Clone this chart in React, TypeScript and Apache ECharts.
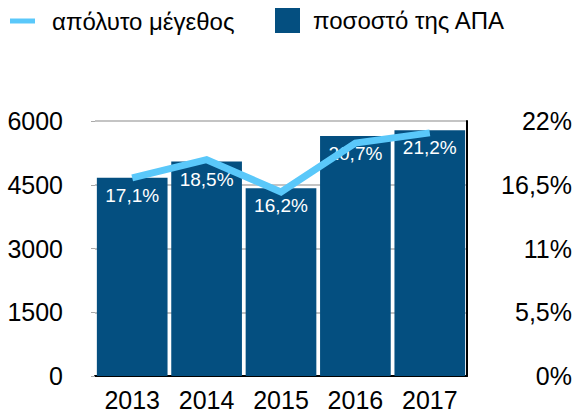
import React, { useEffect, useRef } from "react";
import * as echarts from "echarts";

const years = ["2013", "2014", "2015", "2016", "2017"];
const absoluteValues = [4660, 5090, 4330, 5480, 5720];
const gdpShare = [17.1, 18.5, 16.2, 20.7, 21.2];
const lineName = "απόλυτο μέγεθος";
const barName = "ποσοστό της ΑΠΑ";

const FONT = "'Liberation Sans', Arial, Helvetica, sans-serif";
const BAR_COLOR = "#044F80";
const LINE_COLOR = "#5AC8FA";

const fmtPct = (v: number) => String(v).replace(".", ",") + "%";

export default function App() {
  const ref = useRef<HTMLDivElement>(null);
  useEffect(() => {
    if (!ref.current) return;
    const chart = echarts.init(ref.current, undefined, { renderer: "svg" });
    chart.setOption({
      animation: false,
      textStyle: { fontFamily: FONT },
      legend: [
        {
          data: [{ name: lineName, icon: "rect" }],
          left: 10,
          top: 9,
          padding: 0,
          itemWidth: 25,
          itemHeight: 5,
          selectedMode: false,
          textStyle: { fontSize: 24, color: "#000", fontFamily: FONT, padding: [0, 0, 0, 12] },
        },
        {
          data: [{ name: barName, icon: "rect" }],
          left: 275,
          top: 8,
          padding: 0,
          itemWidth: 25,
          itemHeight: 25,
          selectedMode: false,
          textStyle: { fontSize: 24, color: "#000", fontFamily: FONT, padding: [0, 0, 0, 8] },
        },
      ],
      grid: { left: 95, right: 112, top: 121, bottom: 35 },
      xAxis: {
        type: "category",
        data: years,
        axisLine: { lineStyle: { color: "#000", width: 2 } },
        axisTick: { show: false },
        axisLabel: { fontSize: 25, color: "#000", margin: 11, fontFamily: FONT },
      },
      yAxis: [
        {
          type: "value",
          min: 0,
          max: 6000,
          interval: 1500,
          axisLine: { show: false },
          axisTick: { show: true, length: 4, lineStyle: { color: "#aaa" } },
          axisLabel: {
            fontSize: 25,
            color: "#000",
            margin: 32,
            fontFamily: FONT,
            formatter: (v: number) => String(v),
          },
          splitLine: { lineStyle: { color: "#c4c4c4", width: 2 } },
        },
        {
          type: "value",
          min: 0,
          max: 22,
          interval: 5.5,
          position: "right",
          axisLine: { show: true, lineStyle: { color: "#000", width: 2 } },
          axisTick: { show: false },
          splitLine: { show: false },
          axisLabel: {
            fontSize: 25,
            color: "#000",
            align: "right",
            margin: 105,
            fontFamily: FONT,
            formatter: (v: number) => fmtPct(v),
          },
        },
      ],
      series: [
        {
          name: barName,
          type: "bar",
          yAxisIndex: 1,
          data: gdpShare,
          barCategoryGap: "5%",
          itemStyle: { color: BAR_COLOR },
          label: {
            show: true,
            position: "insideTop",
            distance: 8,
            color: "#fff",
            fontSize: 19,
            fontFamily: FONT,
            formatter: (p: any) => fmtPct(p.value),
          },
          z: 2,
        },
        {
          name: lineName,
          type: "line",
          yAxisIndex: 0,
          data: absoluteValues,
          symbol: "none",
          lineStyle: { color: LINE_COLOR, width: 7, cap: "butt", join: "miter" },
          itemStyle: { color: LINE_COLOR },
          z: 3,
        },
      ],
    });
    return () => chart.dispose();
  }, []);
  return <div ref={ref} style={{ width: 579, height: 412, position: "absolute", left: 0, top: 0 }} />;
}
